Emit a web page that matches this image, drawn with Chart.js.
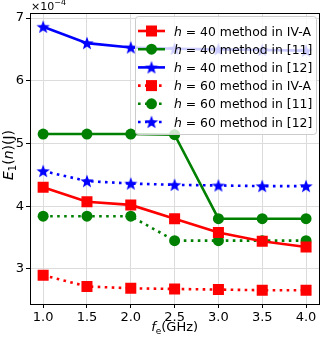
<!DOCTYPE html>
<html>
<head>
<meta charset="utf-8">
<script src="https://cdn.jsdelivr.net/npm/chart.js@4/dist/chart.umd.min.js"></script>
<style>
  html, body { margin: 0; padding: 0; background: #fff; }
  #wrap { width: 327px; height: 339px; }
</style>
</head>
<body>
<div id="wrap"><canvas id="c" width="327" height="339"></canvas></div>
<script>
// frequencies (GHz) and energies in units of 1e-4 J
const freqs = [1.0, 1.5, 2.0, 2.5, 3.0, 3.5, 4.0];
const h40_iva = [4.30, 4.07, 4.02, 3.80, 3.58, 3.44, 3.35];
const h40_11  = [5.15, 5.15, 5.15, 5.14, 3.80, 3.80, 3.80];
const h40_12  = [6.86, 6.60, 6.53, 6.51, 6.50, 6.49, 6.48];
const h60_iva = [2.90, 2.72, 2.69, 2.68, 2.67, 2.66, 2.66];
const h60_11  = [3.84, 3.84, 3.84, 3.45, 3.45, 3.45, 3.45];
const h60_12  = [4.56, 4.40, 4.36, 4.34, 4.33, 4.32, 4.32];
const xTicks = [1.0, 1.5, 2.0, 2.5, 3.0, 3.5, 4.0];
const yTicks = [3, 4, 5, 6, 7];

const RED = '#ff0000', GREEN = '#008000', BLUE = '#0000ff';

function starCanvas(color, r) {
  const s = Math.ceil(r * 2 + 2);
  const cv = document.createElement('canvas');
  cv.width = s; cv.height = s;
  const g = cv.getContext('2d');
  g.fillStyle = color;
  g.beginPath();
  for (let i = 0; i < 10; i++) {
    const rr = i % 2 === 0 ? r : r * 0.42;
    const a = -Math.PI / 2 + i * Math.PI / 5;
    const px = s / 2 + rr * Math.cos(a), py = s / 2 + rr * Math.sin(a) + r * 0.08;
    i === 0 ? g.moveTo(px, py) : g.lineTo(px, py);
  }
  g.closePath();
  g.fill();
  return cv;
}
const blueStar = starCanvas(BLUE, 7);

function series(label, vals, color, style, dotted) {
  const pr = style === 'rect' ? 7.8 : 5.5;
  return {
    label,
    data: freqs.map((f, i) => ({ x: f, y: vals[i] })),
    borderColor: color,
    backgroundColor: color,
    borderWidth: 2.6,
    borderDash: dotted ? [2.6, 4.4] : [],
    pointStyle: style === 'star' ? blueStar : style,
    pointRadius: pr,
    pointHoverRadius: pr,
    pointBorderWidth: 0,
    pointBackgroundColor: color,
    pointBorderColor: color,
    tension: 0,
    fill: false,
    _dotted: dotted,
    _style: style
  };
}

const datasets = [
  series('h = 40 method in IV-A', h40_iva, RED, 'rect', false),
  series('h = 40 method in [11]', h40_11, GREEN, 'circle', false),
  series('h = 40 method in [12]', h40_12, BLUE, 'star', false),
  series('h = 60 method in IV-A', h60_iva, RED, 'rect', true),
  series('h = 60 method in [11]', h60_11, GREEN, 'circle', true),
  series('h = 60 method in [12]', h60_12, BLUE, 'star', true)
];

const FONT = "'DejaVu Sans', sans-serif";

function drawRuns(ctx, runs, cx, y, align) {
  let total = 0;
  runs.forEach(r => { ctx.font = r.f; r.w = ctx.measureText(r.t).width; total += r.w; });
  let x = align === 'left' ? cx : cx - total / 2;
  ctx.textAlign = 'left';
  runs.forEach(r => {
    ctx.font = r.f;
    ctx.fillText(r.t, x, y + r.dy);
    x += r.w;
  });
}

// frame, titles, offset text and legend
const extras = {
  id: 'extras',
  afterDraw(chart) {
    const ctx = chart.ctx;
    const a = chart.chartArea;
    ctx.save();
    ctx.strokeStyle = '#000';
    ctx.lineWidth = 1;
    ctx.strokeRect(Math.round(a.left) + 0.5, Math.round(a.top) + 0.5,
      Math.round(a.right - a.left), Math.round(a.bottom - a.top));

    ctx.fillStyle = '#000';
    ctx.textBaseline = 'alphabetic';
    // offset text x10^-4
    drawRuns(ctx, [
      { t: '\u00d710', f: '11px ' + FONT, dy: 0 },
      { t: '\u22124', f: '8px ' + FONT, dy: -5 }
    ], a.left + 1, 10, 'left');

    // x title  f_e(GHz)
    drawRuns(ctx, [
      { t: 'f', f: 'italic 13px ' + FONT, dy: 0 },
      { t: 'e', f: '9px ' + FONT, dy: 3 },
      { t: '(GHz)', f: '13px ' + FONT, dy: 0 }
    ], (a.left + a.right) / 2, 331);

    // y title E_1(n)(J), rotated
    ctx.save();
    ctx.translate(13, 155);
    ctx.rotate(-Math.PI / 2);
    drawRuns(ctx, [
      { t: 'E', f: 'italic 14px ' + FONT, dy: 0 },
      { t: '1', f: '10px ' + FONT, dy: 3 },
      { t: '(', f: '14px ' + FONT, dy: 0 },
      { t: 'n', f: 'italic 14px ' + FONT, dy: 0 },
      { t: ')(J)', f: '14px ' + FONT, dy: 0 }
    ], 0, 0);
    ctx.restore();

    // legend
    const bx = 135, by = 16, bw = 181, bh = 118;
    ctx.fillStyle = 'rgba(255,255,255,0.8)';
    ctx.strokeStyle = '#cccccc';
    ctx.lineWidth = 1;
    ctx.beginPath();
    ctx.roundRect(bx + 0.5, by + 0.5, bw, bh, 3);
    ctx.fill();
    ctx.stroke();
    chart.data.datasets.forEach((ds, i) => {
      const yy = 31 + i * 18.2;
      ctx.strokeStyle = ds.borderColor;
      ctx.lineWidth = 2.6;
      ctx.setLineDash(ds._dotted ? [2.6, 4.4] : []);
      ctx.beginPath();
      ctx.moveTo(138, yy);
      ctx.lineTo(165, yy);
      ctx.stroke();
      ctx.setLineDash([]);
      ctx.fillStyle = ds.borderColor;
      if (ds._style === 'rect') {
        ctx.fillRect(151.5 - 5.5, yy - 5.5, 11, 11);
      } else if (ds._style === 'circle') {
        ctx.beginPath();
        ctx.arc(151.5, yy, 5.5, 0, Math.PI * 2);
        ctx.fill();
      } else {
        ctx.drawImage(blueStar, 151.5 - blueStar.width / 2, yy - blueStar.height / 2);
      }
      ctx.fillStyle = '#000';
      const rest = ds.label.slice(1);
      drawRuns(ctx, [
        { t: 'h', f: 'italic 12.4px ' + FONT, dy: 0 },
        { t: rest, f: '12.4px ' + FONT, dy: 0 }
      ], 174, yy + 4.5, 'left');
    });
    ctx.restore();
  }
};

new Chart(document.getElementById('c'), {
  type: 'line',
  data: { datasets },
  options: {
    responsive: false,
    animation: false,
    layout: { padding: { left: 0, right: 4, top: 13, bottom: 0 } },
    plugins: { legend: { display: false }, tooltip: { enabled: false } },
    scales: {
      x: {
        type: 'linear',
        min: 0.85, max: 4.15,
        afterBuildTicks: s => { s.ticks = xTicks.map(v => ({ value: v })); },
        afterFit: s => { s.height = 35; },
        ticks: { color: '#000', font: { family: FONT, size: 13 }, padding: 2,
          callback: v => v.toFixed(1), maxRotation: 0 },
        grid: { color: '#dcdcdc', lineWidth: 1, drawTicks: true, tickLength: 4, tickColor: '#000' },
        border: { display: false }
      },
      y: {
        type: 'linear',
        min: 2.44, max: 7.08,
        afterBuildTicks: s => { s.ticks = yTicks.map(v => ({ value: v })); },
        afterFit: s => { s.width = 30; },
        ticks: { color: '#000', font: { family: FONT, size: 13 }, padding: 2,
          callback: v => String(v) },
        grid: { color: '#dcdcdc', lineWidth: 1, drawTicks: true, tickLength: 4, tickColor: '#000' },
        border: { display: false }
      }
    }
  },
  plugins: [extras]
});
</script>
</body>
</html>
